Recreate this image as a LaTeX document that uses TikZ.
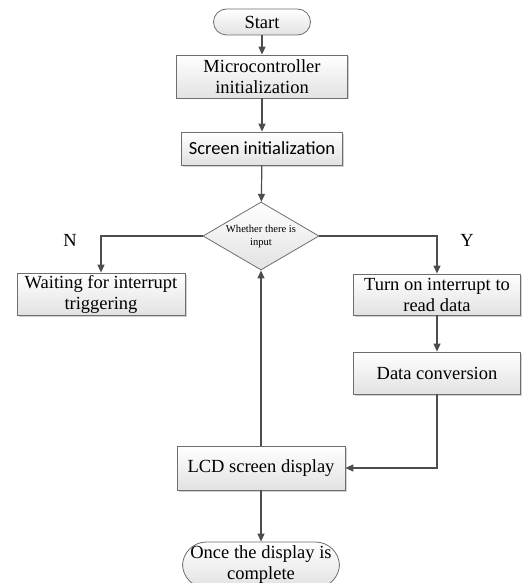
\documentclass[tikz,border=0pt]{standalone}
\usepackage{fontspec}
\setmainfont{Liberation Serif}
\newfontfamily\calfont{Carlito}
\usetikzlibrary{arrows.meta,shapes.geometric,shadows}
\definecolor{linec}{HTML}{4D4D4D}
\definecolor{bordc}{HTML}{6E6E6E}
\definecolor{fillb}{HTML}{E2E2E2}
\begin{document}
\begin{tikzpicture}[x=1pt,y=-1pt,
  every node/.style={font=\fontsize{18.5}{21}\selectfont},
  procbox/.style={draw=bordc, line width=0.8pt, top color=white, bottom color=fillb,
    drop shadow={shadow xshift=1.5pt, shadow yshift=-1.5pt, fill=gray!45, opacity=0.8},
    inner sep=0pt, align=center},
  termbox/.style={draw=bordc, line width=0.8pt, top color=white, bottom color=fillb,
    inner sep=0pt, align=center},
  decbox/.style={diamond, aspect=1.7, draw=bordc, line width=0.8pt, top color=white, bottom color=fillb,
    inner sep=0pt, align=center, minimum width=116pt, minimum height=68pt,
    font=\fontsize{10.6}{13}\selectfont},
  conn/.style={draw=linec, line width=1.2pt, -{Triangle[length=8pt,width=7pt]}},
  lbl/.style={inner sep=0pt}
]
\useasboundingbox (0,0) rectangle (522,583);
\clip (0,0) rectangle (522,583);
\fill[white] (0,0) rectangle (522,583);

\node[termbox, rounded corners=13pt, minimum width=97pt, minimum height=26pt] (start) at (262,22) {Start};
\node[procbox, minimum width=171pt, minimum height=43pt] (micro) at (262,76.5) {Microcontroller\\initialization};
\node[procbox, minimum width=161pt, minimum height=33pt, font=\calfont\fontsize{18.5}{21}\selectfont] (screen) at (262,148.5) {Screen initialization};
\node[decbox] (dec) at (261,236) {Whether there is\\input};
\node[procbox, minimum width=168pt, minimum height=42pt] (wait) at (101,294) {Waiting for interrupt\\triggering};
\node[procbox, minimum width=167pt, minimum height=41pt] (turn) at (437,294.5) {Turn on interrupt to\\read data};
\node[procbox, minimum width=167pt, minimum height=42pt] (conv) at (437,373) {Data conversion};
\node[procbox, minimum width=168pt, minimum height=44pt] (lcd) at (261,468) {LCD screen display};
\node[termbox, rounded corners=24pt, minimum width=157pt, minimum height=46pt] (end) at (261,565) {Once the display is\\complete};

\node[lbl] (nlab) at (70,240) {N};
\node[lbl] (ylab) at (467,240) {Y};

\draw[conn] (start) -- (micro);
\draw[conn] (micro) -- (screen);
\draw[conn] (screen) -- (dec);
\draw[conn] (dec.west) -| (wait.north);
\draw[conn] (dec.east) -| (turn.north);
\draw[conn] (turn) -- (conv);
\draw[conn] (conv.south) |- (lcd.east);
\draw[conn] (lcd.north) -- (dec.south);
\draw[conn] (lcd) -- (end);
\end{tikzpicture}
\end{document}
